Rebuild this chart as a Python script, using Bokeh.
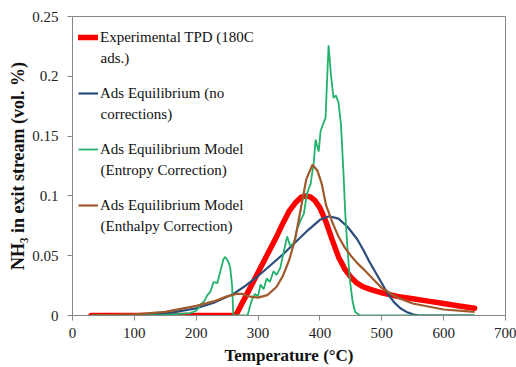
from bokeh.plotting import figure
from bokeh.models import Range1d, FixedTicker, Legend, LegendItem, Label
from bokeh.embed import file_html
from bokeh.resources import INLINE

# ---- data ----
red_T = [30, 100, 200, 255, 262, 266, 270, 275, 280, 290,
         300, 310, 320, 330, 340, 350, 360, 370, 378, 385,
         392, 400, 410, 420, 430, 440, 450, 460, 470, 480,
         500, 525, 550, 575, 600, 625, 650]
red_v = [0, 0, 0, 0, 0.0, 0.002, 0.006, 0.011, 0.016, 0.026,
         0.036, 0.046, 0.056, 0.066, 0.077, 0.087, 0.094, 0.099, 0.100, 0.099,
         0.096, 0.090, 0.078, 0.063, 0.049, 0.039, 0.032, 0.027, 0.024, 0.022,
         0.019, 0.016, 0.014, 0.012, 0.010, 0.008, 0.006]

blue_T = [30, 100, 150, 200, 230, 260, 280, 300, 320, 340,
          360, 380, 400, 415, 430, 445, 460, 470, 480, 490,
          500, 510, 520, 530, 540, 550, 560, 600, 650]
blue_v = [0, 0.0002, 0.0015, 0.006, 0.011, 0.018, 0.025, 0.033, 0.042, 0.051,
          0.061, 0.071, 0.080, 0.083, 0.081, 0.074, 0.064, 0.055, 0.045, 0.036,
          0.027, 0.018, 0.011, 0.006, 0.003, 0.001, 0.0, 0, 0]

green_T = [30, 100, 150, 190, 200, 207, 213, 218, 223, 228,
           234, 239, 244, 247, 252, 255, 258, 260, 270, 283,
           286, 290, 295, 300, 304, 309, 314, 319, 325, 330,
           336, 341, 347, 352, 358, 363, 369, 374, 379, 385,
           390, 393, 398, 401, 405, 409, 414, 418, 422, 426,
           430, 434, 438, 441, 445, 449, 453, 457, 465, 500,
           600, 650]
green_v = [0, 0, 0.0005, 0.002, 0.004, 0.009, 0.012, 0.017, 0.020, 0.028,
           0.027, 0.037, 0.047, 0.049, 0.045, 0.040, 0.025, 0.0, 0.0, 0.0,
           0.006, 0.013, 0.018, 0.016, 0.026, 0.022, 0.031, 0.028, 0.037, 0.034,
           0.040, 0.052, 0.066, 0.058, 0.061, 0.072, 0.080, 0.085, 0.102, 0.110,
           0.128, 0.147, 0.137, 0.154, 0.160, 0.165, 0.226, 0.200, 0.182, 0.184,
           0.178, 0.160, 0.120, 0.085, 0.052, 0.027, 0.011, 0.003, 0, 0,
           0, 0]

brown_T = [30, 100, 150, 200, 230, 250, 265, 275, 285, 300,
           315, 330, 340, 350, 360, 370, 378, 388, 396, 403,
           410, 420, 430, 440, 450, 460, 470, 485, 500, 525,
           550, 600, 650]
brown_v = [0, 0.001, 0.003, 0.008, 0.012, 0.016, 0.018, 0.018, 0.016, 0.015,
           0.017, 0.024, 0.033, 0.046, 0.064, 0.092, 0.114, 0.126, 0.121, 0.110,
           0.092, 0.078, 0.066, 0.057, 0.050, 0.044, 0.039, 0.031, 0.023, 0.015,
           0.010, 0.005, 0.003]

x_ticks = [0, 100, 200, 300, 400, 500, 600, 700]
y_ticks = [0, 0.05, 0.1, 0.15, 0.2, 0.25]
y_tick_labels = ["0", "0.05", "0.1", "0.15", "0.2", "0.25"]

label_first = ["Experimental TPD (180C",
               "Ads Equilibrium (no",
               "Ads Equilibrium Model",
               "Ads Equilibrium Model"]
label_second = ["ads.)",
                "corrections)",
                "(Entropy Correction)",
                "(Enthalpy Correction)"]

FONT = "Liberation Serif"
GRAY = "#868686"

p = figure(width=516, height=367, output_backend="svg", toolbar_location=None,
           x_range=Range1d(0, 700), y_range=Range1d(0, 0.25),
           min_border_left=72, min_border_right=11, min_border_top=16,
           min_border_bottom=52)
p.background_fill_color = "white"
p.border_fill_color = "white"
p.outline_line_color = GRAY
p.outline_line_width = 1
p.xgrid.visible = False
p.ygrid.visible = False

r_red = p.line(red_T, red_v, line_color="#FF0000", line_width=5.5, line_cap="round", line_join="round")
r_blue = p.line(blue_T, blue_v, line_color="#2A4D7C", line_width=2.2)
r_green = p.line(green_T, green_v, line_color="#22B26C", line_width=1.8)
r_brown = p.line(brown_T, brown_v, line_color="#A0592A", line_width=2.2)

for ax in (p.xaxis[0], p.yaxis[0]):
    ax.axis_line_color = GRAY
    ax.major_tick_line_color = GRAY
    ax.major_tick_out = 5
    ax.major_tick_in = 0
    ax.minor_tick_line_color = None
    ax.major_label_text_font = FONT
    ax.major_label_text_font_size = "15px"
    ax.major_label_text_color = "#222222"
    ax.axis_label_text_font = FONT
    ax.axis_label_text_font_style = "bold"
    ax.axis_label_text_color = "#111111"

p.xaxis.ticker = FixedTicker(ticks=x_ticks)
p.yaxis.ticker = FixedTicker(ticks=y_ticks)
p.yaxis.major_label_overrides = {t: s for t, s in zip(y_ticks, y_tick_labels)}
p.xaxis.axis_label = "Temperature (°C)"
p.yaxis.axis_label = "NH\u2083 in exit stream (vol. %)"
p.xaxis.axis_label_text_font_size = "17px"
p.yaxis.axis_label_text_font_size = "18px"
p.xaxis.major_label_standoff = 7
p.xaxis.axis_label_standoff = 5
p.yaxis.major_label_standoff = 9
p.yaxis.axis_label_standoff = 1

legend = Legend(items=[LegendItem(label=l, renderers=[r]) for l, r in
                       zip(label_first, [r_red, r_blue, r_green, r_brown])],
                location="top_left")
legend.border_line_color = None
legend.background_fill_alpha = 0
legend.label_text_font = FONT
legend.label_text_font_size = "15px"
legend.label_text_color = "#111111"
legend.glyph_width = 20
legend.glyph_height = 30
legend.label_height = 30
legend.label_standoff = 2
legend.spacing = 26
legend.padding = 0
legend.margin = 6
p.add_layout(legend)

# second lines of the two-line legend entries
for i, txt in enumerate(label_second):
    p.add_layout(Label(x=28, y=258 - 56 * i, x_units="screen", y_units="screen",
                       text=txt, text_font=FONT, text_font_size="15px",
                       text_color="#111111", text_baseline="middle"))

open("out.html", "w").write(file_html(p, INLINE))
